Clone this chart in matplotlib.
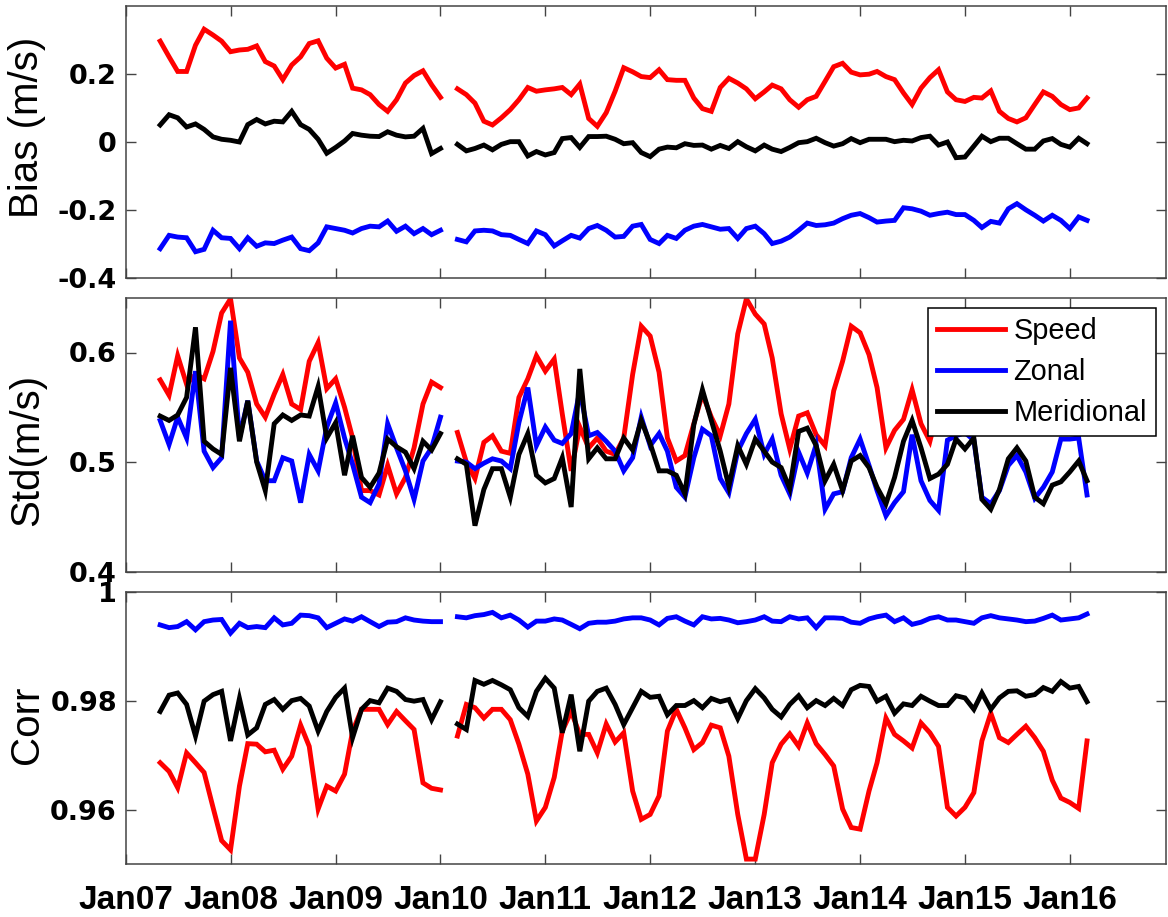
import numpy as np
import pandas as pd
import matplotlib
matplotlib.use('Agg')
import matplotlib.pyplot as plt
import matplotlib.dates as mdates

nan = np.nan
# Monthly data: segment A May 2007 - Jan 2010, segment B Mar 2010 - Mar 2016
seg_a_start = '2007-05-01'
seg_b_start = '2010-03-01'
series_names = ['Speed', 'Zonal', 'Meridional']
series_colors = ['#ff0000', '#0000ff', '#000000']

bias_speed_a = [0.296, 0.250, 0.207, 0.207, 0.284, 0.331, 0.314, 0.296, 0.265, 0.270, 0.272, 0.282, 0.236,
                0.223, 0.183, 0.226, 0.250, 0.289, 0.297, 0.246, 0.217, 0.228, 0.158, 0.153, 0.139, 0.110,
                0.090, 0.124, 0.173, 0.195, 0.209, 0.168, 0.131]
bias_speed_b = [0.156, 0.139, 0.114, 0.061, 0.050, 0.071, 0.095, 0.124, 0.160, 0.149, 0.153, 0.156, 0.160,
                0.139, 0.170, 0.069, 0.046, 0.086, 0.149, 0.218, 0.206, 0.192, 0.189, 0.212, 0.183, 0.181,
                0.181, 0.129, 0.098, 0.090, 0.160, 0.187, 0.173, 0.156, 0.127, 0.147, 0.167, 0.156, 0.124,
                0.102, 0.124, 0.134, 0.178, 0.221, 0.231, 0.205, 0.197, 0.199, 0.207, 0.192, 0.183, 0.144,
                0.110, 0.158, 0.189, 0.212, 0.147, 0.124, 0.119, 0.131, 0.129, 0.150, 0.090, 0.069, 0.059,
                0.071, 0.110, 0.147, 0.134, 0.110, 0.095, 0.100, 0.129]
bias_zonal_a = [-0.313, -0.274, -0.279, -0.281, -0.322, -0.315, -0.259, -0.281, -0.283, -0.313, -0.281,
                -0.306, -0.296, -0.298, -0.288, -0.279, -0.313, -0.319, -0.296, -0.249, -0.254, -0.259,
                -0.267, -0.254, -0.247, -0.249, -0.232, -0.262, -0.247, -0.269, -0.254, -0.272, -0.259]
bias_zonal_b = [-0.286, -0.293, -0.261, -0.259, -0.261, -0.272, -0.274, -0.286, -0.298, -0.261, -0.272,
                -0.305, -0.290, -0.274, -0.282, -0.254, -0.245, -0.259, -0.279, -0.277, -0.247, -0.242,
                -0.286, -0.298, -0.274, -0.283, -0.259, -0.247, -0.242, -0.249, -0.256, -0.254, -0.283,
                -0.254, -0.247, -0.269, -0.298, -0.291, -0.279, -0.259, -0.238, -0.245, -0.243, -0.238,
                -0.225, -0.215, -0.210, -0.222, -0.235, -0.232, -0.230, -0.193, -0.196, -0.203, -0.215,
                -0.210, -0.206, -0.213, -0.213, -0.230, -0.251, -0.233, -0.238, -0.196, -0.181, -0.199,
                -0.215, -0.232, -0.215, -0.230, -0.254, -0.220, -0.230]
bias_merid_a = [0.050, 0.080, 0.071, 0.044, 0.053, 0.037, 0.015, 0.008, 0.005, 0.000, 0.051, 0.066, 0.053,
                0.061, 0.059, 0.090, 0.051, 0.037, 0.008, -0.033, -0.016, 0.003, 0.025, 0.020, 0.017, 0.016,
                0.030, 0.020, 0.015, 0.017, 0.040, -0.034, -0.019]
bias_merid_b = [-0.007, -0.026, -0.019, -0.009, -0.023, -0.007, 0.001, 0.001, -0.041, -0.028, -0.038,
                -0.031, 0.010, 0.013, -0.016, 0.016, 0.016, 0.017, 0.008, -0.005, -0.002, -0.031, -0.043,
                -0.021, -0.015, -0.017, -0.005, -0.010, -0.009, -0.021, -0.010, -0.019, 0.001, -0.014,
                -0.026, -0.009, -0.021, -0.028, -0.016, -0.002, 0.001, 0.011, -0.002, -0.012, -0.005,
                0.010, -0.002, 0.008, 0.008, 0.008, 0.001, 0.005, 0.003, 0.013, 0.017, -0.009, 0.000,
                -0.046, -0.044, -0.012, 0.017, 0.001, 0.011, 0.011, -0.005, -0.021, -0.021, 0.003, 0.010,
                -0.007, -0.015, 0.011, -0.005]

std_speed_a = [0.575, 0.561, 0.597, 0.571, 0.580, 0.576, 0.601, 0.636, 0.649, 0.595, 0.582, 0.553, 0.541,
               0.562, 0.580, 0.553, 0.548, 0.592, 0.609, 0.567, 0.576, 0.550, 0.522, 0.474, 0.474, 0.470,
               0.497, 0.471, 0.486, 0.513, 0.553, 0.573, 0.568]
std_speed_b = [0.527, 0.500, 0.485, 0.518, 0.524, 0.510, 0.508, 0.559, 0.576, 0.597, 0.583, 0.594, 0.544,
               0.492, 0.532, 0.513, 0.522, 0.510, 0.507, 0.522, 0.580, 0.624, 0.615, 0.582, 0.522, 0.501,
               0.506, 0.535, 0.562, 0.541, 0.524, 0.553, 0.617, 0.649, 0.635, 0.626, 0.595, 0.544, 0.512,
               0.542, 0.545, 0.525, 0.515, 0.565, 0.592, 0.624, 0.618, 0.598, 0.568, 0.513, 0.529, 0.539,
               0.566, 0.535, 0.519, 0.550, 0.590, 0.610, 0.605, 0.580, 0.555, 0.540, 0.535, 0.545, 0.560,
               0.590, 0.615, 0.600, 0.575, 0.555, 0.545, 0.550, 0.545]
std_zonal_a = [0.538, 0.516, 0.541, 0.522, 0.583, 0.510, 0.495, 0.504, 0.629, 0.522, 0.556, 0.501, 0.483,
               0.483, 0.504, 0.501, 0.463, 0.507, 0.492, 0.532, 0.554, 0.522, 0.498, 0.468, 0.463, 0.480,
               0.535, 0.513, 0.492, 0.466, 0.501, 0.513, 0.541]
std_zonal_b = [0.501, 0.500, 0.494, 0.499, 0.503, 0.501, 0.494, 0.536, 0.568, 0.515, 0.532, 0.520, 0.517,
               0.526, 0.565, 0.524, 0.527, 0.519, 0.510, 0.492, 0.504, 0.541, 0.515, 0.526, 0.510, 0.477,
               0.468, 0.504, 0.530, 0.524, 0.485, 0.472, 0.510, 0.526, 0.539, 0.507, 0.521, 0.488, 0.471,
               0.509, 0.490, 0.516, 0.457, 0.471, 0.473, 0.504, 0.521, 0.497, 0.474, 0.451, 0.463, 0.473,
               0.525, 0.483, 0.465, 0.456, 0.520, 0.524, 0.527, 0.520, 0.468, 0.462, 0.474, 0.497, 0.506,
               0.491, 0.467, 0.477, 0.491, 0.521, 0.521, 0.522, 0.470]
std_merid_a = [0.542, 0.538, 0.543, 0.559, 0.623, 0.519, 0.512, 0.507, 0.586, 0.519, 0.556, 0.500, 0.474,
               0.535, 0.543, 0.538, 0.543, 0.542, 0.569, 0.522, 0.536, 0.488, 0.524, 0.486, 0.477, 0.490,
               0.521, 0.514, 0.509, 0.494, 0.519, 0.511, 0.526]
std_merid_b = [0.503, 0.498, 0.442, 0.475, 0.494, 0.494, 0.468, 0.507, 0.526, 0.488, 0.481, 0.485, 0.504,
               0.459, 0.585, 0.503, 0.513, 0.503, 0.503, 0.522, 0.511, 0.538, 0.517, 0.492, 0.492, 0.488,
               0.471, 0.534, 0.566, 0.538, 0.510, 0.478, 0.515, 0.498, 0.521, 0.510, 0.500, 0.495, 0.476,
               0.528, 0.531, 0.515, 0.483, 0.498, 0.474, 0.501, 0.506, 0.495, 0.477, 0.462, 0.486, 0.519,
               0.538, 0.513, 0.485, 0.489, 0.498, 0.521, 0.512, 0.522, 0.466, 0.457, 0.475, 0.503, 0.513,
               0.501, 0.468, 0.462, 0.479, 0.482, 0.491, 0.501, 0.483]

corr_speed_a = [0.9686, 0.9670, 0.9640, 0.9704, 0.9686, 0.9668, 0.9604, 0.9543, 0.9526, 0.9643, 0.9721,
                0.9720, 0.9706, 0.9709, 0.9674, 0.9698, 0.9755, 0.9716, 0.9601, 0.9643, 0.9634, 0.9665,
                0.9744, 0.9784, 0.9784, 0.9784, 0.9756, 0.9780, 0.9763, 0.9747, 0.9649, 0.9639, 0.9636]
corr_speed_b = [0.9735, 0.9793, 0.9787, 0.9768, 0.9784, 0.9784, 0.9765, 0.9720, 0.9665, 0.9579, 0.9604,
                0.9659, 0.9744, 0.9780, 0.9738, 0.9738, 0.9704, 0.9757, 0.9724, 0.9741, 0.9634, 0.9582,
                0.9591, 0.9625, 0.9744, 0.9784, 0.9750, 0.9710, 0.9723, 0.9755, 0.9750, 0.9698, 0.9591,
                0.9509, 0.9509, 0.9591, 0.9686, 0.9720, 0.9739, 0.9716, 0.9759, 0.9721, 0.9701, 0.9680,
                0.9601, 0.9567, 0.9564, 0.9634, 0.9686, 0.9768, 0.9738, 0.9726, 0.9713, 0.9759, 0.9741,
                0.9716, 0.9604, 0.9588, 0.9604, 0.9631, 0.9726, 0.9777, 0.9732, 0.9723, 0.9738, 0.9753,
                0.9732, 0.9707, 0.9654, 0.9621, 0.9613, 0.9602, 0.9726]
corr_zonal_a = [0.9939, 0.9934, 0.9936, 0.9945, 0.9930, 0.9945, 0.9948, 0.9949, 0.9924, 0.9942, 0.9934,
                0.9936, 0.9934, 0.9952, 0.9939, 0.9942, 0.9957, 0.9956, 0.9952, 0.9934, 0.9942, 0.9950,
                0.9946, 0.9954, 0.9945, 0.9936, 0.9944, 0.9945, 0.9952, 0.9948, 0.9946, 0.9945, 0.9945]
corr_zonal_b = [0.9954, 0.9952, 0.9956, 0.9958, 0.9962, 0.9952, 0.9957, 0.9948, 0.9935, 0.9946, 0.9946,
                0.9950, 0.9948, 0.9940, 0.9932, 0.9942, 0.9944, 0.9944, 0.9946, 0.9950, 0.9952, 0.9952,
                0.9948, 0.9939, 0.9951, 0.9954, 0.9946, 0.9939, 0.9954, 0.9950, 0.9951, 0.9948, 0.9943,
                0.9945, 0.9948, 0.9954, 0.9946, 0.9945, 0.9954, 0.9950, 0.9952, 0.9934, 0.9952, 0.9952,
                0.9951, 0.9944, 0.9942, 0.9950, 0.9954, 0.9957, 0.9945, 0.9952, 0.9940, 0.9944, 0.9951,
                0.9954, 0.9948, 0.9948, 0.9945, 0.9942, 0.9952, 0.9956, 0.9952, 0.9950, 0.9948, 0.9945,
                0.9946, 0.9951, 0.9957, 0.9948, 0.9950, 0.9952, 0.9959]
corr_merid_a = [0.9780, 0.9810, 0.9814, 0.9793, 0.9735, 0.9799, 0.9811, 0.9817, 0.9726, 0.9804, 0.9737,
                0.9750, 0.9793, 0.9802, 0.9784, 0.9800, 0.9804, 0.9790, 0.9744, 0.9780, 0.9806, 0.9823,
                0.9732, 0.9784, 0.9800, 0.9796, 0.9823, 0.9817, 0.9802, 0.9799, 0.9802, 0.9765, 0.9798]
corr_merid_b = [0.9757, 0.9747, 0.9837, 0.9830, 0.9837, 0.9829, 0.9820, 0.9787, 0.9771, 0.9817, 0.9841,
                0.9823, 0.9741, 0.9811, 0.9707, 0.9799, 0.9817, 0.9823, 0.9793, 0.9756, 0.9787, 0.9817,
                0.9806, 0.9808, 0.9774, 0.9791, 0.9791, 0.9800, 0.9787, 0.9804, 0.9798, 0.9802, 0.9767,
                0.9800, 0.9822, 0.9805, 0.9784, 0.9770, 0.9793, 0.9809, 0.9787, 0.9800, 0.9791, 0.9804,
                0.9791, 0.9820, 0.9828, 0.9826, 0.9799, 0.9808, 0.9777, 0.9794, 0.9791, 0.9808, 0.9799,
                0.9791, 0.9791, 0.9809, 0.9805, 0.9784, 0.9814, 0.9784, 0.9805, 0.9817, 0.9818, 0.9808,
                0.9811, 0.9824, 0.9817, 0.9835, 0.9823, 0.9826, 0.9798]

panel_labels = ['Bias (m/s)', 'Std(m/s)', 'Corr']
panel_ylims = [(-0.4, 0.4), (0.4, 0.65), (0.95, 1.0)]
panel_yticks = [[-0.4, -0.2, 0, 0.2], [0.4, 0.5, 0.6], [0.96, 0.98, 1.0]]
panel_yticklabels = [['-0.4', '-0.2', '0', '0.2'], ['0.4', '0.5', '0.6'], ['0.96', '0.98', '1']]
panel_data = [
    [(bias_speed_a, bias_speed_b), (bias_zonal_a, bias_zonal_b), (bias_merid_a, bias_merid_b)],
    [(std_speed_a, std_speed_b), (std_zonal_a, std_zonal_b), (std_merid_a, std_merid_b)],
    [(corr_speed_a, corr_speed_b), (corr_zonal_a, corr_zonal_b), (corr_merid_a, corr_merid_b)],
]

W, H = 1168, 917
fig = plt.figure(figsize=(W / 100, H / 100), dpi=100)
left_px, right_px = 125.7, 1166.0
panel_px = [(5.7, 278.3), (297.7, 571.7), (591.7, 864.0)]
label_ycenter = [0.555, 0.444, 0.51]

frame_col = '#444444'
xmin = pd.Timestamp('2007-01-01')
xmax = pd.Timestamp('2016-12-01')

axes = []
for i in range(3):
    top, bot = panel_px[i]
    ax = fig.add_axes([left_px / W, 1 - bot / H, (right_px - left_px) / W, (bot - top) / H])
    axes.append(ax)
    for (a, b), name, col in zip(panel_data[i], series_names, series_colors):
        xa = pd.date_range(seg_a_start, periods=len(a), freq='MS')
        xb = pd.date_range(seg_b_start, periods=len(b), freq='MS')
        ax.plot(xa, a, color=col, lw=3.5, label=name, solid_joinstyle='miter')
        ax.plot(xb, b, color=col, lw=3.5, solid_joinstyle='miter')
    ax.set_xlim(xmin, xmax)
    ax.set_ylim(*panel_ylims[i])
    ax.set_yticks(panel_yticks[i])
    ax.set_yticklabels(panel_yticklabels[i], fontfamily='DejaVu Sans', fontweight='bold', fontsize=19.5)
    ax.xaxis.set_major_locator(mdates.YearLocator())
    ax.xaxis.set_major_formatter(mdates.DateFormatter('%b%y'))
    ax.tick_params(axis='both', which='both', direction='in', length=7.2, width=1.0, color=frame_col,
                   top=True, right=True)
    ax.tick_params(axis='y', pad=6.3)
    for sp in ax.spines.values():
        sp.set_color(frame_col)
        sp.set_linewidth(1.1)
    ax.set_ylabel(panel_labels[i], fontfamily='Liberation Sans', fontsize=29, va='center')
    ax.yaxis.set_label_coords(-0.0949, label_ycenter[i])
    if i < 2:
        ax.tick_params(axis='x', labelbottom=False)
    else:
        ax.tick_params(axis='x', pad=15)
        for t in ax.get_xticklabels():
            t.set_fontfamily('Liberation Sans')
            t.set_fontweight('bold')
            t.set_fontsize(24)

leg = axes[1].legend(loc='upper right', bbox_to_anchor=(0.990, 0.961), prop={'family': 'Liberation Sans', 'size': 20.8},
                     handlelength=2.35, handletextpad=0.3, borderpad=0.3, labelspacing=0.45,
                     fancybox=False, framealpha=1, edgecolor='black', borderaxespad=0)
leg.get_frame().set_linewidth(1.1)

fig.savefig('out.png', dpi=100)
